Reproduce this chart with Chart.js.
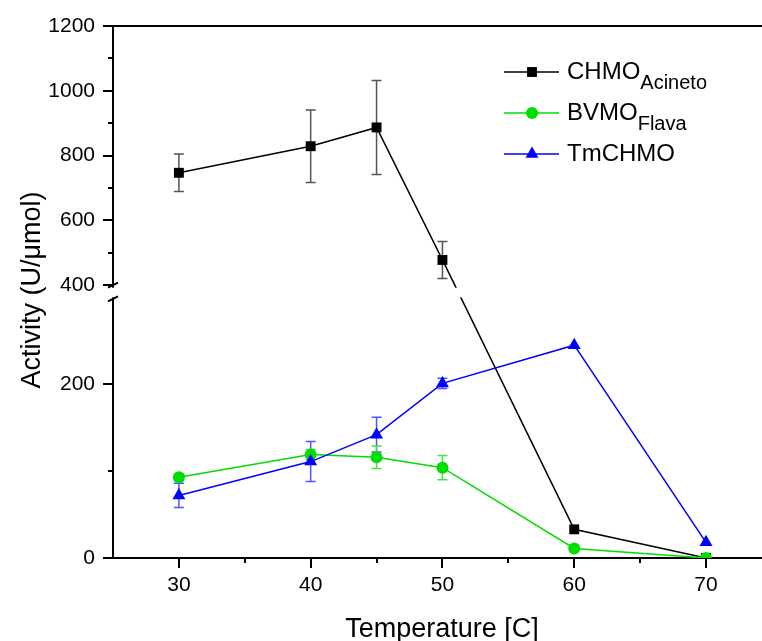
<!DOCTYPE html>
<html>
<head>
<meta charset="utf-8">
<script src="https://cdn.jsdelivr.net/npm/chart.js@4.4.1/dist/chart.umd.min.js"></script>
<style>
    html, body { margin: 0; padding: 0; background: #fff; overflow: hidden; }
</style>
</head>
<body>
<canvas id="myChart" width="762" height="641"></canvas>
<script>
//! DATA
const temperatures = [30, 40, 45, 50, 60, 70];
const chmoActivity = [747, 829, 887, 478, 33, 0];
const chmoError = [58, 112, 145, 57, 0, 0];
const bvmoActivity = [93, 119, 116, 104, 11, 0];
const bvmoError = [4, 6, 13, 14, 0, 0];
const tmchmoActivity = [72, 111, 142, 201, 245, 18];
const tmchmoError = [14, 23, 20, 6, 0, 0];

const xTicks = [30, 35, 40, 45, 50, 55, 60, 65, 70];
const xLabels = [30, 40, 50, 60, 70];
const yTicks = [0, 100, 200, 400, 500, 600, 700, 800, 900, 1000, 1100, 1200];
const yLabels = [0, 200, 400, 600, 800, 1000, 1200];

//! BROKEN Y AXIS (0-300 full scale, 400-1200 compressed)
const BREAK_LOW = 300;
const BREAK_HIGH = 400;
const BREAK_GAP = 14;
const UPPER_RATIO = 0.373;

function toAxis(v) {
    if (v <= BREAK_LOW) return v;
    if (v >= BREAK_HIGH) return BREAK_LOW + BREAK_GAP + (v - BREAK_HIGH) * UPPER_RATIO;
    return BREAK_LOW + (v - BREAK_LOW) / (BREAK_HIGH - BREAK_LOW) * BREAK_GAP;
}
function fromAxis(t) {
    if (t <= BREAK_LOW) return t;
    if (t >= BREAK_LOW + BREAK_GAP) return BREAK_HIGH + (t - BREAK_LOW - BREAK_GAP) / UPPER_RATIO;
    return BREAK_LOW + (t - BREAK_LOW) / BREAK_GAP * (BREAK_HIGH - BREAK_LOW);
}

const FONT = "'Liberation Sans', Arial, sans-serif";

function series(values) {
    return temperatures.map((t, i) => ({ x: t, y: toAxis(values[i]) }));
}

//* no extra label padding, the layout padding decides the plot box
function noPadding(scale) {
    scale.paddingTop = 0;
    scale.paddingBottom = 0;
    scale.paddingLeft = 0;
    scale.paddingRight = 0;
}

//* error bars under the markers
const errorBars = {
    id: 'errorBars',
    beforeDatasetsDraw(chart) {
        const { ctx, scales: { y } } = chart;
        chart.data.datasets.forEach((ds, i) => {
            const meta = chart.getDatasetMeta(i);
            ctx.save();
            ctx.strokeStyle = ds.errorColor;
            ctx.lineWidth = 1.5;
            meta.data.forEach((pt, j) => {
                const v = ds.values[j], e = ds.errors[j];
                if (!e) return;
                const top = y.getPixelForValue(toAxis(v + e));
                const bot = y.getPixelForValue(toAxis(v - e));
                ctx.beginPath();
                ctx.moveTo(pt.x, top); ctx.lineTo(pt.x, bot);
                ctx.moveTo(pt.x - 5, top); ctx.lineTo(pt.x + 5, top);
                ctx.moveTo(pt.x - 5, bot); ctx.lineTo(pt.x + 5, bot);
                ctx.stroke();
            });
            ctx.restore();
        });
    }
};

//* axis break, tick marks, frame top, titles and legend
const decorations = {
    id: 'decorations',
    afterDatasetsDraw(chart) {
        const { ctx, chartArea: area, scales: { x, y } } = chart;
        const yHigh = y.getPixelForValue(toAxis(BREAK_HIGH));
        const yLow = y.getPixelForValue(toAxis(BREAK_LOW));

        // white band across the break
        ctx.save();
        ctx.fillStyle = '#fff';
        ctx.fillRect(area.left - 3, yHigh + 2.5, area.right - area.left + 3, yLow - yHigh - 2.5);

        ctx.strokeStyle = '#000';
        ctx.lineWidth = 2;
        ctx.beginPath();
        // break marks
        ctx.moveTo(area.left - 5, yHigh + 2.5); ctx.lineTo(area.left + 5, yHigh - 2.5);
        ctx.moveTo(area.left - 5, yLow + 4); ctx.lineTo(area.left + 5, yLow - 1);
        // y ticks
        yTicks.forEach(v => {
            const py = Math.round(y.getPixelForValue(toAxis(v)));
            const len = yLabels.includes(v) ? 10 : 5;
            ctx.moveTo(area.left - len, py); ctx.lineTo(area.left, py);
        });
        // x ticks
        xTicks.forEach(v => {
            const px = Math.round(x.getPixelForValue(v));
            const len = xLabels.includes(v) ? 10 : 5;
            ctx.moveTo(px, area.bottom); ctx.lineTo(px, area.bottom + len);
        });
        // top frame line
        ctx.moveTo(area.left, area.top); ctx.lineTo(area.right, area.top);
        ctx.stroke();
        ctx.restore();
    },
    afterDraw(chart) {
        const { ctx } = chart;
        ctx.save();
        ctx.fillStyle = '#000';
        ctx.font = '27px ' + FONT;
        ctx.textAlign = 'center';
        ctx.textBaseline = 'alphabetic';
        ctx.fillText('Temperature [C]', 442, 637);

        ctx.translate(40, 290);
        ctx.rotate(-Math.PI / 2);
        ctx.fillText('Activity (U/\u03bcmol)', 0, 0);
        ctx.restore();

        // legend
        const entries = [
            { ds: chart.data.datasets[2], name: 'CHMO', sub: 'Acineto', y: 72 },
            { ds: chart.data.datasets[1], name: 'BVMO', sub: 'Flava', y: 113 },
            { ds: chart.data.datasets[0], name: 'TmCHMO', sub: '', y: 154 }
        ];
        entries.forEach(e => {
            ctx.save();
            ctx.strokeStyle = e.ds.borderColor;
            ctx.lineWidth = 1.5;
            ctx.beginPath();
            ctx.moveTo(504, e.y); ctx.lineTo(559, e.y);
            ctx.stroke();
            ctx.fillStyle = e.ds.backgroundColor;
            Chart.helpers.drawPoint(ctx, {
                pointStyle: e.ds.pointStyle, radius: e.ds.pointRadius, borderWidth: 0, rotation: 0
            }, 532, e.y);
            ctx.fillStyle = '#000';
            ctx.textAlign = 'left';
            ctx.textBaseline = 'alphabetic';
            ctx.font = '24px ' + FONT;
            ctx.fillText(e.name, 567, e.y + 7);
            const w = ctx.measureText(e.name).width;
            if (e.sub) {
                ctx.font = '20px ' + FONT;
                ctx.fillText(e.sub, 567 + w, e.y + 17);
            }
            ctx.restore();
        });
    }
};

//! CHART JS CONFIG
const data = {
    datasets: [{
        label: 'TmCHMO',
        data: series(tmchmoActivity),
        values: tmchmoActivity,
        errors: tmchmoError,
        errorColor: '#5252ff',
        borderColor: '#0000ff',
        backgroundColor: '#0000ff',
        pointStyle: 'triangle',
        pointRadius: 7.5,
        order: 0
    },
    {
        label: 'BVMO Flava',
        data: series(bvmoActivity),
        values: bvmoActivity,
        errors: bvmoError,
        errorColor: '#44e044',
        borderColor: '#00dd00',
        backgroundColor: '#00dd00',
        pointStyle: 'circle',
        pointRadius: 6,
        order: 1
    },
    {
        label: 'CHMO Acineto',
        data: series(chmoActivity),
        values: chmoActivity,
        errors: chmoError,
        errorColor: '#555555',
        borderColor: '#000000',
        backgroundColor: '#000000',
        pointStyle: 'rect',
        pointRadius: 7,
        order: 2
    }]
};
data.datasets.forEach(ds => {
    ds.borderWidth = 1.5;
    ds.pointBorderWidth = 0;
    ds.pointHoverRadius = ds.pointRadius;
    ds.tension = 0;
    ds.fill = false;
});

const config = {
    type: 'line',
    data,
    options: {
        responsive: false,
        animation: false,
        events: [],
        layout: { autoPadding: false, padding: { top: 26, right: 0, left: 0, bottom: 0 } },
        plugins: { legend: { display: false }, tooltip: { enabled: false } },
        scales: {
            x: {
                type: 'linear',
                min: 25,
                max: 74.25,
                grid: { display: false, drawTicks: false },
                border: { display: true, color: '#000', width: 2 },
                afterBuildTicks: scale => { scale.ticks = xTicks.map(v => ({ value: v })); },
                afterFit: scale => { scale.height = 83; noPadding(scale); },
                ticks: {
                    autoSkip: false,
                    maxRotation: 0,
                    padding: 15,
                    color: '#000',
                    font: { family: FONT, size: 21 },
                    callback: v => xLabels.includes(v) ? String(v) : ''
                }
            },
            y: {
                type: 'linear',
                min: 0,
                max: toAxis(1200),
                grid: { display: false, drawTicks: false },
                border: { display: true, color: '#000', width: 2 },
                afterBuildTicks: scale => { scale.ticks = yTicks.map(v => ({ value: toAxis(v) })); },
                afterFit: scale => { scale.width = 113; noPadding(scale); },
                ticks: {
                    autoSkip: false,
                    padding: 18,
                    color: '#000',
                    font: { family: FONT, size: 21 },
                    callback: t => {
                        const v = Math.round(fromAxis(t));
                        return yLabels.includes(v) ? String(v) : '';
                    }
                }
            }
        }
    },
    plugins: [errorBars, decorations]
};

//! CREATE CHART
const myChart = new Chart(document.getElementById('myChart'), config);
</script>
</body>
</html>
